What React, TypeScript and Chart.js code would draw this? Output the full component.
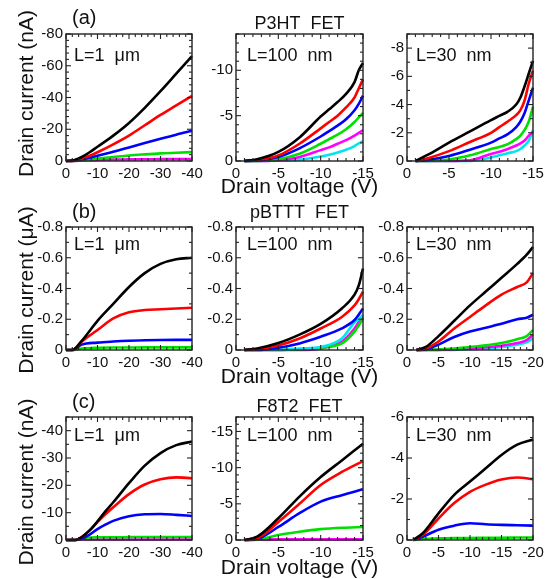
import { useEffect, useRef } from "react";
import { Chart, registerables } from "chart.js";

Chart.register(...registerables);

const FONT = '"Liberation Sans", Arial, Helvetica, sans-serif';

// ---------- text ----------
const ROW_TAGS = ["(a)", "(b)", "(c)"];
const ROW_TITLES = ["P3HT  FET", "pBTTT  FET", "F8T2  FET"];
const Y_TITLES = ["Drain current (nA)", "Drain current (\u03bcA)", "Drain current (nA)"];
const X_TITLE = "Drain voltage (V)";
const CHANNEL_LABELS = ["L=1  \u03bcm", "L=100  nm", "L=30  nm"];

// ---------- colours ----------
const BLACK = "#000000";
const RED = "#ff0000";
const BLUE = "#0000ff";
const GREEN = "#00e000";
const MAGENTA = "#ff00ff";
const CYAN = "#00e6f0";

// ---------- (a) P3HT FET ----------
const A1_VD = [0, -2.5, -5, -7.5, -10, -15, -20, -25, -30, -35, -40];
const A1_BLACK = [0, -0.5, -2.5, -5.5, -9, -16, -24, -33.5, -44, -55, -66];
const A1_RED = [0, -0.2, -1.5, -3.3, -5.5, -10.5, -16, -22.5, -29, -35, -41];
const A1_BLUE = [0, -0.2, -1, -2, -3.3, -5.8, -8.5, -11.3, -14, -16.6, -19];
const A1_GREEN = [0, -0.1, -0.5, -1, -1.5, -2.5, -3.5, -4.2, -4.8, -5.2, -5.6];
const A1_MAGENTA = [0, 0, -0.3, -0.5, -0.7, -0.9, -1, -1.1, -1.2, -1.2, -1.3];

const A2_VD = [-1, -2.5, -5, -7.5, -10, -11, -12, -13, -14, -14.5, -15];
const A2_BLACK = [0, -0.2, -1.0, -2.6, -4.9, -5.7, -6.5, -7.4, -8.7, -10, -10.8];
const A2_RED = [0, -0.1, -0.6, -1.9, -3.6, -4.3, -5.0, -5.9, -7.0, -8.0, -9.0];
const A2_BLUE = [0, -0.05, -0.45, -1.4, -2.7, -3.3, -3.9, -4.6, -5.6, -6.3, -7.2];
const A2_GREEN = [0, 0, -0.2, -0.8, -1.9, -2.4, -2.9, -3.5, -4.3, -4.8, -5.3];
const A2_MAGENTA = [0, 0, -0.1, -0.45, -1.2, -1.5, -1.9, -2.3, -2.8, -3.1, -3.4];
const A2_CYAN = [0, 0, -0.05, -0.15, -0.5, -0.7, -0.95, -1.25, -1.65, -1.95, -2.2];

const A3_VD = [-1, -2.5, -5, -7.5, -10, -11, -12, -13, -13.5, -14, -14.5, -15];
const A3_BLACK = [0, -0.45, -1.3, -2.1, -2.9, -3.2, -3.5, -4.0, -4.5, -5.3, -6.2, -7.1];
const A3_RED = [0, -0.2, -0.7, -1.35, -2.0, -2.4, -2.8, -3.25, -3.6, -4.3, -5.5, -6.4];
const A3_BLUE = [0, -0.08, -0.35, -0.8, -1.3, -1.6, -1.9, -2.4, -2.8, -3.4, -4.3, -5.2];
const A3_GREEN = [0, 0, -0.1, -0.4, -0.85, -1.0, -1.2, -1.55, -1.8, -2.2, -2.8, -3.85];
const A3_MAGENTA = [0, 0, 0, -0.05, -0.5, -0.65, -0.85, -1.1, -1.25, -1.45, -1.8, -2.05];
const A3_CYAN = [0, 0, 0, 0, -0.25, -0.4, -0.55, -0.7, -0.85, -1.1, -1.45, -2.2];

// ---------- (b) pBTTT FET ----------
const B1_VD = [0, -2, -5, -10, -15, -20, -25, -30, -35, -40];
const B1_BLACK = [0, 0, -0.06, -0.19, -0.3, -0.41, -0.5, -0.56, -0.59, -0.6];
const B1_RED = [0, 0, -0.055, -0.13, -0.205, -0.245, -0.26, -0.265, -0.27, -0.275];
const B1_BLUE = [0, 0, -0.035, -0.048, -0.055, -0.06, -0.063, -0.065, -0.066, -0.066];
const B1_GREEN = [0, 0, -0.01, -0.015, -0.016, -0.016, -0.017, -0.017, -0.017, -0.017];

const B2_VD = [-1, -2.5, -5, -7.5, -10, -12.5, -14, -14.5, -15];
const B2_BLACK = [0, -0.01, -0.045, -0.1, -0.17, -0.27, -0.36, -0.42, -0.53];
const B2_RED = [0, -0.005, -0.03, -0.075, -0.14, -0.215, -0.29, -0.33, -0.38];
const B2_BLUE = [0, 0, -0.015, -0.043, -0.086, -0.14, -0.195, -0.23, -0.27];
const B2_CYAN = [0, 0, 0, -0.01, -0.02, -0.075, -0.18, -0.2, -0.23];
const B2_GREEN = [0, 0, 0, -0.005, -0.015, -0.043, -0.12, -0.16, -0.205];
const B2_MAGENTA = [0, 0, 0, 0, -0.01, -0.055, -0.14, -0.18, -0.215];

const B3_VD = [-1.5, -3, -5, -7.5, -10, -12.5, -15, -17.5, -19, -20];
const B3_BLACK = [0, -0.02, -0.09, -0.19, -0.29, -0.38, -0.47, -0.56, -0.62, -0.67];
const B3_RED = [0, -0.01, -0.055, -0.14, -0.215, -0.29, -0.36, -0.41, -0.44, -0.5];
const B3_BLUE = [0, -0.005, -0.035, -0.085, -0.12, -0.145, -0.17, -0.2, -0.21, -0.23];
const B3_GREEN = [0, 0, -0.005, -0.01, -0.02, -0.03, -0.045, -0.07, -0.09, -0.13];
const B3_MAGENTA = [0, 0, 0, -0.005, -0.01, -0.018, -0.028, -0.045, -0.065, -0.1];
const B3_CYAN = [0, 0, 0, 0, -0.005, -0.01, -0.02, -0.035, -0.05, -0.075];

// ---------- (c) F8T2 FET ----------
const C1_VD = [0, -3, -5, -7.5, -10, -12.5, -15, -20, -25, -30, -35, -40];
const C1_BLACK = [0, 0, -1.1, -3.5, -6.8, -10.5, -13.8, -20.8, -27.2, -31.8, -34.7, -36];
const C1_RED = [0, 0, -1.1, -3.5, -6.6, -9.4, -12.0, -16.8, -20.3, -22.2, -22.9, -22.6];
const C1_BLUE = [0, 0, -0.5, -2.0, -4.0, -5.6, -7.0, -8.7, -9.4, -9.5, -9.2, -8.8];
const C1_GREEN = [0, 0, -0.5, -0.9, -1, -1, -1, -1.05, -1.1, -1.1, -1.1, -1.1];
const C1_MAGENTA = [0, 0, -0.2, -0.2, -0.2, -0.2, -0.2, -0.2, -0.2, -0.2, -0.2, -0.2];

const C2_VD = [-1, -2.5, -5, -7.5, -10, -12.5, -15];
const C2_BLACK = [0, -0.46, -3.0, -6.0, -8.7, -11.0, -13.3];
const C2_RED = [0, -0.23, -2.5, -5.0, -7.6, -9.4, -10.9];
const C2_BLUE = [0, -0.14, -1.8, -3.7, -5.3, -6.2, -7.0];
const C2_GREEN = [0, -0.05, -0.7, -1.15, -1.5, -1.7, -1.8];
const C2_MAGENTA = [0, -0.05, -0.08, -0.08, -0.08, -0.08, -0.08];

const C3_VD = [-1, -2.5, -5, -7.5, -10, -12.5, -15, -17.5, -20];
const C3_BLACK = [0, -0.33, -1.3, -2.2, -2.85, -3.5, -4.15, -4.65, -4.9];
const C3_RED = [0, -0.25, -1.05, -1.8, -2.35, -2.7, -2.95, -3.05, -2.97];
const C3_BLUE = [0, -0.16, -0.5, -0.7, -0.82, -0.77, -0.74, -0.72, -0.7];
const C3_GREEN = [0, -0.05, -0.08, -0.1, -0.1, -0.11, -0.11, -0.12, -0.12];

// ---------- axis settings ----------
type Series = { data: number[]; color: string };
type TextItem = { text: string; x: number; y: number; size: number; align?: CanvasTextAlign; rotate?: boolean };
type Panel = {
  rect: { L: number; T: number; R: number; B: number };
  vd: number[];
  series: Series[];
  xMin: number; xMajor: number; xMinor: number;
  yMin: number; yMajor: number; yMinor: number;
  texts: TextItem[];
};

const ROW_TOP = [
  { T: 34, B: 161, tag: 24, title: 29, xt: 193, yt: 93.5, lab: 61 },
  { T: 227, B: 350, tag: 218, title: 218, xt: 383, yt: 290, lab: 250 },
  { T: 417, B: 540, tag: 408, title: 412, xt: 574, yt: 482, lab: 441 },
];
const COLS = [
  { L: 66, R: 192, labX: 74 },
  { L: 236, R: 363, labX: 247 },
  { L: 407, R: 533, labX: 416 },
];

function panel(row: number, col: number, vd: number[], series: Series[], xMin: number, xMajor: number, xMinor: number, yMin: number, yMajor: number, yMinor: number): Panel {
  const r = ROW_TOP[row];
  const c = COLS[col];
  const texts: TextItem[] = [{ text: CHANNEL_LABELS[col], x: c.labX, y: r.lab, size: 18, align: "left" }];
  if (col === 0) {
    texts.push({ text: ROW_TAGS[row], x: 72, y: r.tag, size: 20, align: "left" });
    texts.push({ text: Y_TITLES[row], x: 33, y: r.yt, size: 21, rotate: true });
  }
  if (col === 1) {
    texts.push({ text: ROW_TITLES[row], x: (c.L + c.R) / 2, y: r.title, size: 18, align: "center" });
    texts.push({ text: X_TITLE, x: (c.L + c.R) / 2, y: r.xt, size: 21, align: "center" });
  }
  return { rect: { L: c.L, T: r.T, R: c.R, B: r.B }, vd, series, xMin, xMajor, xMinor, yMin, yMajor, yMinor, texts };
}

const PANELS: Panel[] = [
  panel(0, 0, A1_VD, [
    { data: A1_BLACK, color: BLACK }, { data: A1_RED, color: RED }, { data: A1_BLUE, color: BLUE },
    { data: A1_GREEN, color: GREEN }, { data: A1_MAGENTA, color: MAGENTA },
  ], -40, 10, 2, -80, 20, 4),
  panel(0, 1, A2_VD, [
    { data: A2_BLACK, color: BLACK }, { data: A2_RED, color: RED }, { data: A2_BLUE, color: BLUE },
    { data: A2_GREEN, color: GREEN }, { data: A2_MAGENTA, color: MAGENTA }, { data: A2_CYAN, color: CYAN },
  ], -15, 5, 1, -14, 5, 1),
  panel(0, 2, A3_VD, [
    { data: A3_BLACK, color: BLACK }, { data: A3_RED, color: RED }, { data: A3_BLUE, color: BLUE },
    { data: A3_GREEN, color: GREEN }, { data: A3_MAGENTA, color: MAGENTA }, { data: A3_CYAN, color: CYAN },
  ], -15, 5, 1, -9, 2, 1),
  panel(1, 0, B1_VD, [
    { data: B1_BLACK, color: BLACK }, { data: B1_RED, color: RED }, { data: B1_BLUE, color: BLUE },
    { data: B1_GREEN, color: GREEN },
  ], -40, 10, 2, -0.8, 0.2, 0.1),
  panel(1, 1, B2_VD, [
    { data: B2_BLACK, color: BLACK }, { data: B2_RED, color: RED }, { data: B2_BLUE, color: BLUE },
    { data: B2_CYAN, color: CYAN }, { data: B2_GREEN, color: GREEN }, { data: B2_MAGENTA, color: MAGENTA },
  ], -15, 5, 1, -0.8, 0.2, 0.1),
  panel(1, 2, B3_VD, [
    { data: B3_BLACK, color: BLACK }, { data: B3_RED, color: RED }, { data: B3_BLUE, color: BLUE },
    { data: B3_GREEN, color: GREEN }, { data: B3_MAGENTA, color: MAGENTA }, { data: B3_CYAN, color: CYAN },
  ], -20, 5, 1, -0.8, 0.2, 0.1),
  panel(2, 0, C1_VD, [
    { data: C1_BLACK, color: BLACK }, { data: C1_RED, color: RED }, { data: C1_BLUE, color: BLUE },
    { data: C1_GREEN, color: GREEN }, { data: C1_MAGENTA, color: MAGENTA },
  ], -40, 10, 2, -45, 10, 5),
  panel(2, 1, C2_VD, [
    { data: C2_BLACK, color: BLACK }, { data: C2_RED, color: RED }, { data: C2_BLUE, color: BLUE },
    { data: C2_GREEN, color: GREEN }, { data: C2_MAGENTA, color: MAGENTA },
  ], -15, 5, 1, -17, 5, 1),
  panel(2, 2, C3_VD, [
    { data: C3_BLACK, color: BLACK }, { data: C3_RED, color: RED }, { data: C3_BLUE, color: BLUE },
    { data: C3_GREEN, color: GREEN },
  ], -20, 5, 1, -6, 2, 1),
];

const W = 550;
const H = 579;

const framePlugin = {
  id: "frame",
  afterDraw(chart: any, _args: any, opts: any) {
    const { ctx, chartArea } = chart;
    const { left, right, top, bottom } = chartArea;
    const xs = chart.scales.x;
    const ys = chart.scales.y;
    ctx.save();
    ctx.strokeStyle = "#222";
    ctx.lineWidth = 1.4;
    ctx.strokeRect(left, top, right - left, bottom - top);
    ctx.lineWidth = 1.1;
    const line = (x1: number, y1: number, x2: number, y2: number) => {
      ctx.beginPath();
      ctx.moveTo(x1, y1);
      ctx.lineTo(x2, y2);
      ctx.stroke();
    };
    const n = (range: number, step: number) => Math.floor(range / step + 1e-6);
    for (let i = 0; i <= n(-opts.xMin, opts.xMinor); i++) {
      const v = -i * opts.xMinor;
      const isMajor = Math.abs(v / opts.xMajor - Math.round(v / opts.xMajor)) < 1e-6;
      const len = isMajor ? 5 : 3;
      const px = xs.getPixelForValue(v);
      line(px, bottom, px, bottom - len);
      line(px, top, px, top + len);
    }
    for (let i = 0; i <= n(-opts.yMin, opts.yMinor); i++) {
      const v = -i * opts.yMinor;
      const isMajor = Math.abs(v / opts.yMajor - Math.round(v / opts.yMajor)) < 1e-6;
      const len = isMajor ? 5 : 3;
      const py = ys.getPixelForValue(v);
      line(left, py, left + len, py);
      line(right, py, right - len, py);
    }
    ctx.fillStyle = "#111";
    for (const t of opts.texts as TextItem[]) {
      ctx.font = `${t.size}px ${FONT}`;
      ctx.textBaseline = "alphabetic";
      if (t.rotate) {
        ctx.save();
        ctx.translate(t.x, t.y);
        ctx.rotate(-Math.PI / 2);
        ctx.textAlign = "center";
        ctx.fillText(t.text, 0, 0);
        ctx.restore();
      } else {
        ctx.textAlign = t.align || "left";
        ctx.fillText(t.text, t.x, t.y);
      }
    }
    ctx.restore();
  },
};

function buildConfig(p: Panel): any {
  const { L, T, R, B } = p.rect;
  return {
    type: "line",
    data: {
      datasets: p.series.map((s) => ({
        data: p.vd.map((x, i) => ({ x, y: s.data[i] })),
        borderColor: s.color,
        backgroundColor: s.color,
        borderWidth: 2.6,
        pointRadius: 0,
        cubicInterpolationMode: "monotone",
        fill: false,
        clip: 2,
      })),
    },
    options: {
      animation: false,
      responsive: false,
      devicePixelRatio: 1,
      events: [],
      layout: { padding: { left: 0, top: T, right: W - R, bottom: 0 } },
      plugins: {
        legend: { display: false },
        tooltip: { enabled: false },
        title: { display: false },
        frame: {
          xMin: p.xMin, xMajor: p.xMajor, xMinor: p.xMinor,
          yMin: p.yMin, yMajor: p.yMajor, yMinor: p.yMinor,
          texts: p.texts,
        },
      },
      scales: {
        x: {
          type: "linear",
          reverse: true,
          min: p.xMin,
          max: 0,
          grid: { display: false, drawTicks: false },
          border: { display: false },
          ticks: {
            stepSize: p.xMajor,
            includeBounds: false,
            autoSkip: false,
            maxRotation: 0,
            padding: 4,
            color: "#111",
            font: { family: FONT, size: 15 },
          },
          afterFit: (s: any) => {
            s.height = H - B;
          },
        },
        y: {
          type: "linear",
          reverse: true,
          min: p.yMin,
          max: 0,
          grid: { display: false, drawTicks: false },
          border: { display: false },
          ticks: {
            stepSize: p.yMajor,
            includeBounds: false,
            autoSkip: false,
            padding: 3,
            color: "#111",
            font: { family: FONT, size: 15 },
          },
          afterFit: (s: any) => {
            s.width = L;
          },
        },
      },
    },
    plugins: [framePlugin],
  };
}

export default function App() {
  const refs = useRef<(HTMLCanvasElement | null)[]>([]);
  useEffect(() => {
    document.body.style.margin = "0";
    const charts = PANELS.map((p, i) => new Chart(refs.current[i] as HTMLCanvasElement, buildConfig(p)));
    return () => charts.forEach((c) => c.destroy());
  }, []);
  return (
    <div style={{ position: "relative", width: W, height: H, background: "#fff", overflow: "hidden" }}>
      {PANELS.map((_, i) => (
        <canvas
          key={i}
          ref={(el) => {
            refs.current[i] = el;
          }}
          width={W}
          height={H}
          style={{ position: "absolute", left: 0, top: 0, width: W, height: H }}
        />
      ))}
    </div>
  );
}
